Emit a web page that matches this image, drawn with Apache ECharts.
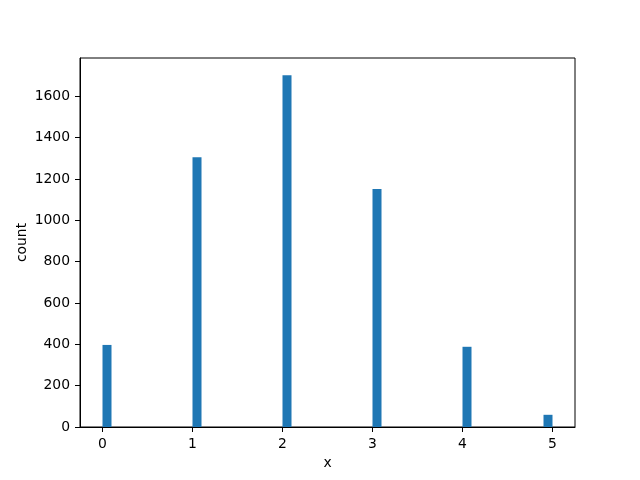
<!DOCTYPE html>
<html>
<head>
<meta charset="utf-8">
<script src="https://cdn.jsdelivr.net/npm/echarts@6/dist/echarts.min.js"></script>
<style>
  html, body { margin: 0; padding: 0; background: #fff; }
  #hist { width: 640px; height: 480px; }
</style>
</head>
<body>
<div id="hist"></div>
<script>
// non-empty bins of the histogram (50 bins over 0..5, width 0.1)
var binLeft = [0, 1, 2, 3, 4, 4.9];
var binWidth = 0.1;
var counts = [397, 1305, 1701, 1151, 388, 59];
var xTicks = [0, 1, 2, 3, 4, 5];
var yTicks = [0, 200, 400, 600, 800, 1000, 1200, 1400, 1600];

(function(){
    var chart = echarts.init(document.getElementById('hist'));

    var data = binLeft.map(function (x, i) {
        return [x, x + binWidth, counts[i]];
    });

    var font = 'DejaVu Sans';
    var plain = function (v) { return String(v); };

    var option = {
        animation: false,
        backgroundColor: '#ffffff',
        grid: {
            left: 80,
            right: 65,
            top: 58,
            bottom: 53,
            show: true,
            borderColor: '#000',
            borderWidth: 1,
            backgroundColor: 'transparent'
        },
        xAxis: {
            type: 'value',
            min: -0.25,
            max: 5.25,
            name: 'x',
            nameLocation: 'middle',
            nameGap: 29,
            nameMoveOverlap: false,
            nameTextStyle: { color: '#000', fontSize: 13.9, fontFamily: font },
            axisLine: { show: true, onZero: false, lineStyle: { color: '#000', width: 1 } },
            axisTick: { show: true, length: 5, lineStyle: { color: '#000' }, customValues: xTicks },
            axisLabel: { color: '#000', fontSize: 13.9, fontFamily: font, margin: 10, customValues: xTicks, formatter: plain },
            splitLine: { show: false }
        },
        yAxis: {
            type: 'value',
            min: 0,
            max: 1785,
            name: 'count',
            nameLocation: 'middle',
            nameGap: 58,
            nameMoveOverlap: false,
            nameRotate: 90,
            nameTextStyle: { color: '#000', fontSize: 13.9, fontFamily: font, verticalAlign: 'middle' },
            axisLine: { show: true, onZero: false, lineStyle: { color: '#000', width: 1 } },
            axisTick: { show: true, length: 5, lineStyle: { color: '#000' }, customValues: yTicks },
            axisLabel: { color: '#000', fontSize: 13.9, fontFamily: font, margin: 10, customValues: yTicks, formatter: plain },
            splitLine: { show: false }
        },
        series: [
            {
                type: 'custom',
                renderItem: function (params, api) {
                    var p0 = api.coord([api.value(0), 0]);
                    var p1 = api.coord([api.value(1), api.value(2)]);
                    return {
                        type: 'rect',
                        shape: { x: p0[0], y: p1[1], width: p1[0] - p0[0], height: p0[1] - p1[1] },
                        style: { fill: '#1f77b4' }
                    };
                },
                encode: { x: [0, 1], y: 2 },
                data: data
            }
        ]
    };

    chart.setOption(option);
})();
</script>
</body>
</html>
